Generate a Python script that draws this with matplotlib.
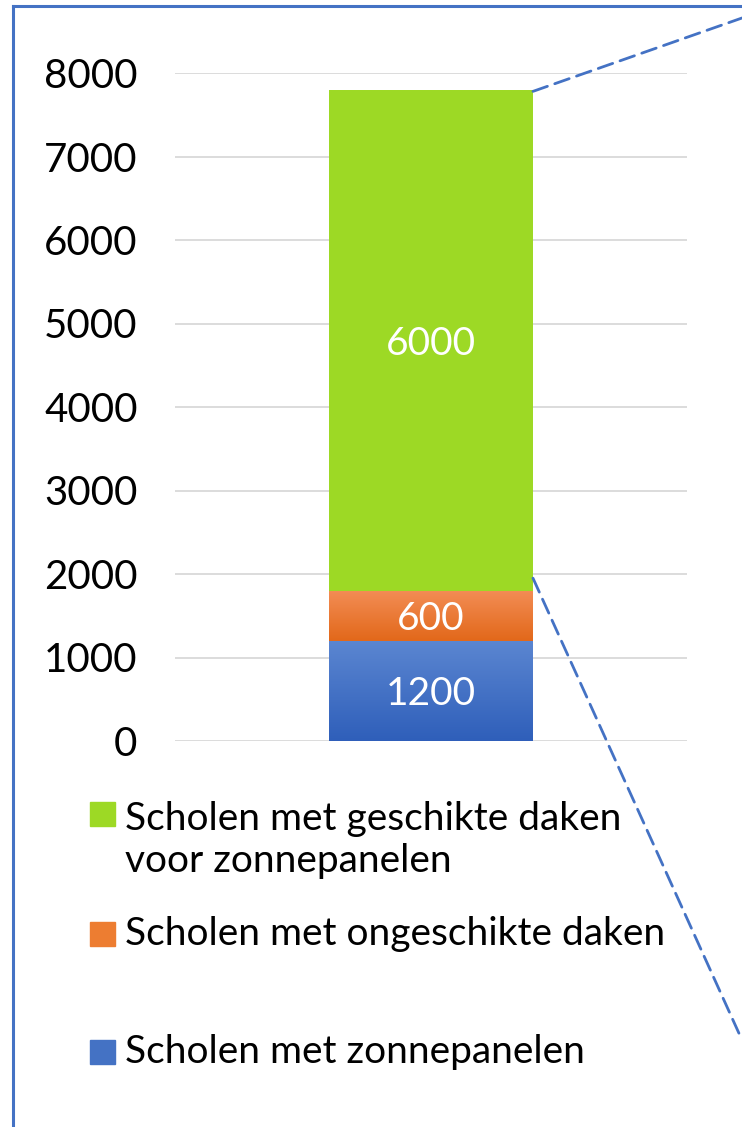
import matplotlib.pyplot as plt
import numpy as np
from matplotlib.patches import Rectangle, ConnectionPatch
from matplotlib.lines import Line2D

# data
categories = ['Scholen met zonnepanelen', 'Scholen met ongeschikte daken',
              'Scholen met geschikte daken\nvoor zonnepanelen']
values = [1200, 600, 6000]
yticks = [0, 1000, 2000, 3000, 4000, 5000, 6000, 7000, 8000]
# gradient colours (top, bottom); None = flat
grads = [('#5b86d1', '#2f5fba'), ('#f38d55', '#e2681a'), None]
flat = ['#4472c4', '#ed7d31', '#9dd925']

plt.rcParams['font.family'] = ['Lato', 'DejaVu Sans']
W, H = 742, 1127
fig = plt.figure(figsize=(W / 100, H / 100), dpi=100)
ax = fig.add_axes([175 / W, 1 - 741 / H, 512 / W, 668 / H])

bottom = 0
for v, g, c in zip(values, grads, flat):
    bar = ax.bar(0, v, width=1.0, bottom=bottom, color=c, zorder=3)[0]
    if g is not None:
        top = np.array(plt.matplotlib.colors.to_rgb(g[0]))
        bot = np.array(plt.matplotlib.colors.to_rgb(g[1]))
        t = np.linspace(0, 1, 64)[:, None]
        img = (top * (1 - t) + bot * t)[:, None, :]
        im = ax.imshow(img, extent=(-0.5, 0.5, bottom, bottom + v),
                       aspect='auto', zorder=4)
        im.set_clip_path(bar)
    ax.text(0, bottom + v / 2, str(v), ha='center', va='center_baseline',
            color='white', fontsize=28, zorder=5)
    bottom += v

ax.set_xlim(-1.255, 1.255)
ax.set_ylim(0, 8000)
ax.set_yticks(yticks)
ax.set_xticks([])
ax.tick_params(axis='y', length=0, pad=27, labelsize=29)
ax.grid(axis='y', color='#d9d9d9', lw=1.3, zorder=0)
for s in ax.spines.values():
    s.set_visible(False)

# legend drawn by hand
leg_y = [1052, 934, 840]
sq_y = [1052, 934, 814]
for lab, c, y, sy in zip(categories, flat, leg_y, sq_y):
    fig.add_artist(Rectangle((90 / W, 1 - (sy + 12) / H), 25 / W, 24 / H,
                             transform=fig.transFigure, color=c))
    fig.text(125 / W, 1 - y / H, lab, fontsize=28, va='center',
             ha='left', linespacing=1.18)

# zoom connector lines
blue = '#4472c4'
con1 = ConnectionPatch(xyA=(0.5, 7780), coordsA=ax.transData,
                       xyB=(1.0, 1 - 18 / H), coordsB=fig.transFigure,
                       color=blue, lw=2.0, linestyle=(0, (5.5, 2.8)))
con2 = ConnectionPatch(xyA=(0.5, 1950), coordsA=ax.transData,
                       xyB=(1.0, 1 - 1040 / H), coordsB=fig.transFigure,
                       color=blue, lw=2.0, linestyle=(0, (5.5, 2.8)))
fig.add_artist(con1)
fig.add_artist(con2)

# frame
fig.add_artist(Line2D([13 / W, 13 / W], [0, 1 - 6 / H], transform=fig.transFigure,
                      color=blue, lw=2.2))
fig.add_artist(Line2D([13 / W, 1], [1 - 6 / H, 1 - 6 / H], transform=fig.transFigure,
                      color=blue, lw=2.2))

fig.savefig('out.png', dpi=100)
